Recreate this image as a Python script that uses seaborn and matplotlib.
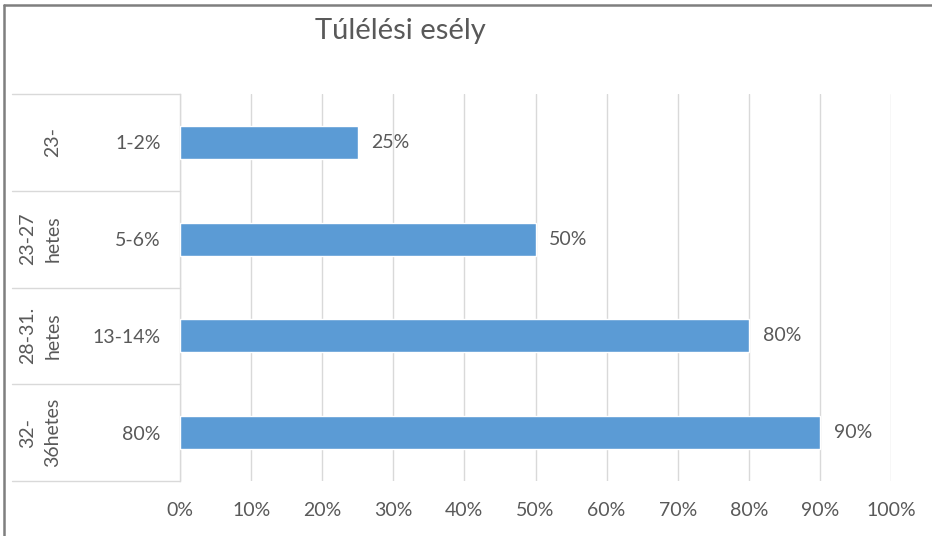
import matplotlib
matplotlib.use("Agg")
import matplotlib.pyplot as plt
import matplotlib.transforms as mtransforms
from matplotlib.lines import Line2D
from matplotlib.ticker import FuncFormatter, MultipleLocator
import seaborn as sns
import pandas as pd

# ---- data ----
title = "Túlélési esély"
inner_labels = ["1-2%", "5-6%", "13-14%", "80%"]
outer_labels = ["23-", "23-27\nhetes", "28-31.\nhetes", "32-\n36hetes"]
survival = [0.25, 0.50, 0.80, 0.90]

df = pd.DataFrame({"pos": list(range(len(survival))), "value": survival})

sns.set_theme(style="white")
plt.rcParams["font.family"] = ["Lato", "DejaVu Sans"]

W, H = 932, 536
fig = plt.figure(figsize=(W / 100, H / 100), dpi=100)
ax = fig.add_axes([180 / W, 1 - 481 / H, (891 - 180) / W, (481 - 94) / H])

text_color = "#595959"
grid_color = "#d9d9d9"
bar_color = "#5b9bd5"
fs = 14

sns.barplot(data=df, x="value", y="pos", orient="h", color=bar_color,
            width=0.34, saturation=1, ax=ax, zorder=3)

ax.set_xlim(0, 1)
ax.set_ylim(3.5, -0.5)
ax.xaxis.set_major_locator(MultipleLocator(0.1))
ax.xaxis.set_major_formatter(FuncFormatter(lambda v, p: f"{v*100:.0f}%"))
ax.grid(axis="x", color=grid_color, linewidth=1, zorder=0)
ax.grid(axis="y", visible=False)
for s in ["top", "right", "bottom"]:
    ax.spines[s].set_visible(False)
ax.spines["left"].set_color(grid_color)
ax.spines["left"].set_linewidth(1)

ax.set_xlabel("")
ax.set_ylabel("")
ax.tick_params(axis="x", length=0, pad=15, labelsize=fs, labelcolor=text_color)
ax.set_yticks(range(len(inner_labels)))
ax.set_yticklabels(inner_labels)
ax.tick_params(axis="y", length=0, pad=14, labelsize=fs, labelcolor=text_color)

# data labels
ax.bar_label(ax.containers[0], labels=[f"{v*100:.0f}%" for v in survival],
             padding=10, fontsize=fs, color=text_color)

# multi-level category separators and outer labels
trans = mtransforms.blended_transform_factory(ax.transAxes, ax.transData)
x0 = (12 - 180) / (891 - 180)
for b in [-0.5, 0.5, 1.5, 2.5, 3.5]:
    ax.add_line(Line2D([x0, 0], [b, b], transform=trans, color=grid_color,
                       linewidth=1, clip_on=False))
outer_x = [(53 - 180) / 711, (40 - 180) / 711, (40 - 180) / 711, (40 - 180) / 711]
for i, (lab, xx) in enumerate(zip(outer_labels, outer_x)):
    ax.text(xx, i, lab, transform=trans, rotation=90, ha="center", va="center",
            fontsize=fs, color=text_color, linespacing=1.6, multialignment="center")

# title
fig.text(400 / W, 1 - 31 / H, title, ha="center", va="center", fontsize=21,
         color=text_color)

# outer frame (top & left)
fig.add_artist(Line2D([4 / W, 1], [1 - 5 / H, 1 - 5 / H], transform=fig.transFigure,
                      color="#7f7f7f", linewidth=1.8))
fig.add_artist(Line2D([4 / W, 4 / W], [0, 1 - 5 / H], transform=fig.transFigure,
                      color="#7f7f7f", linewidth=1.8))

fig.savefig("out.png", dpi=100)
